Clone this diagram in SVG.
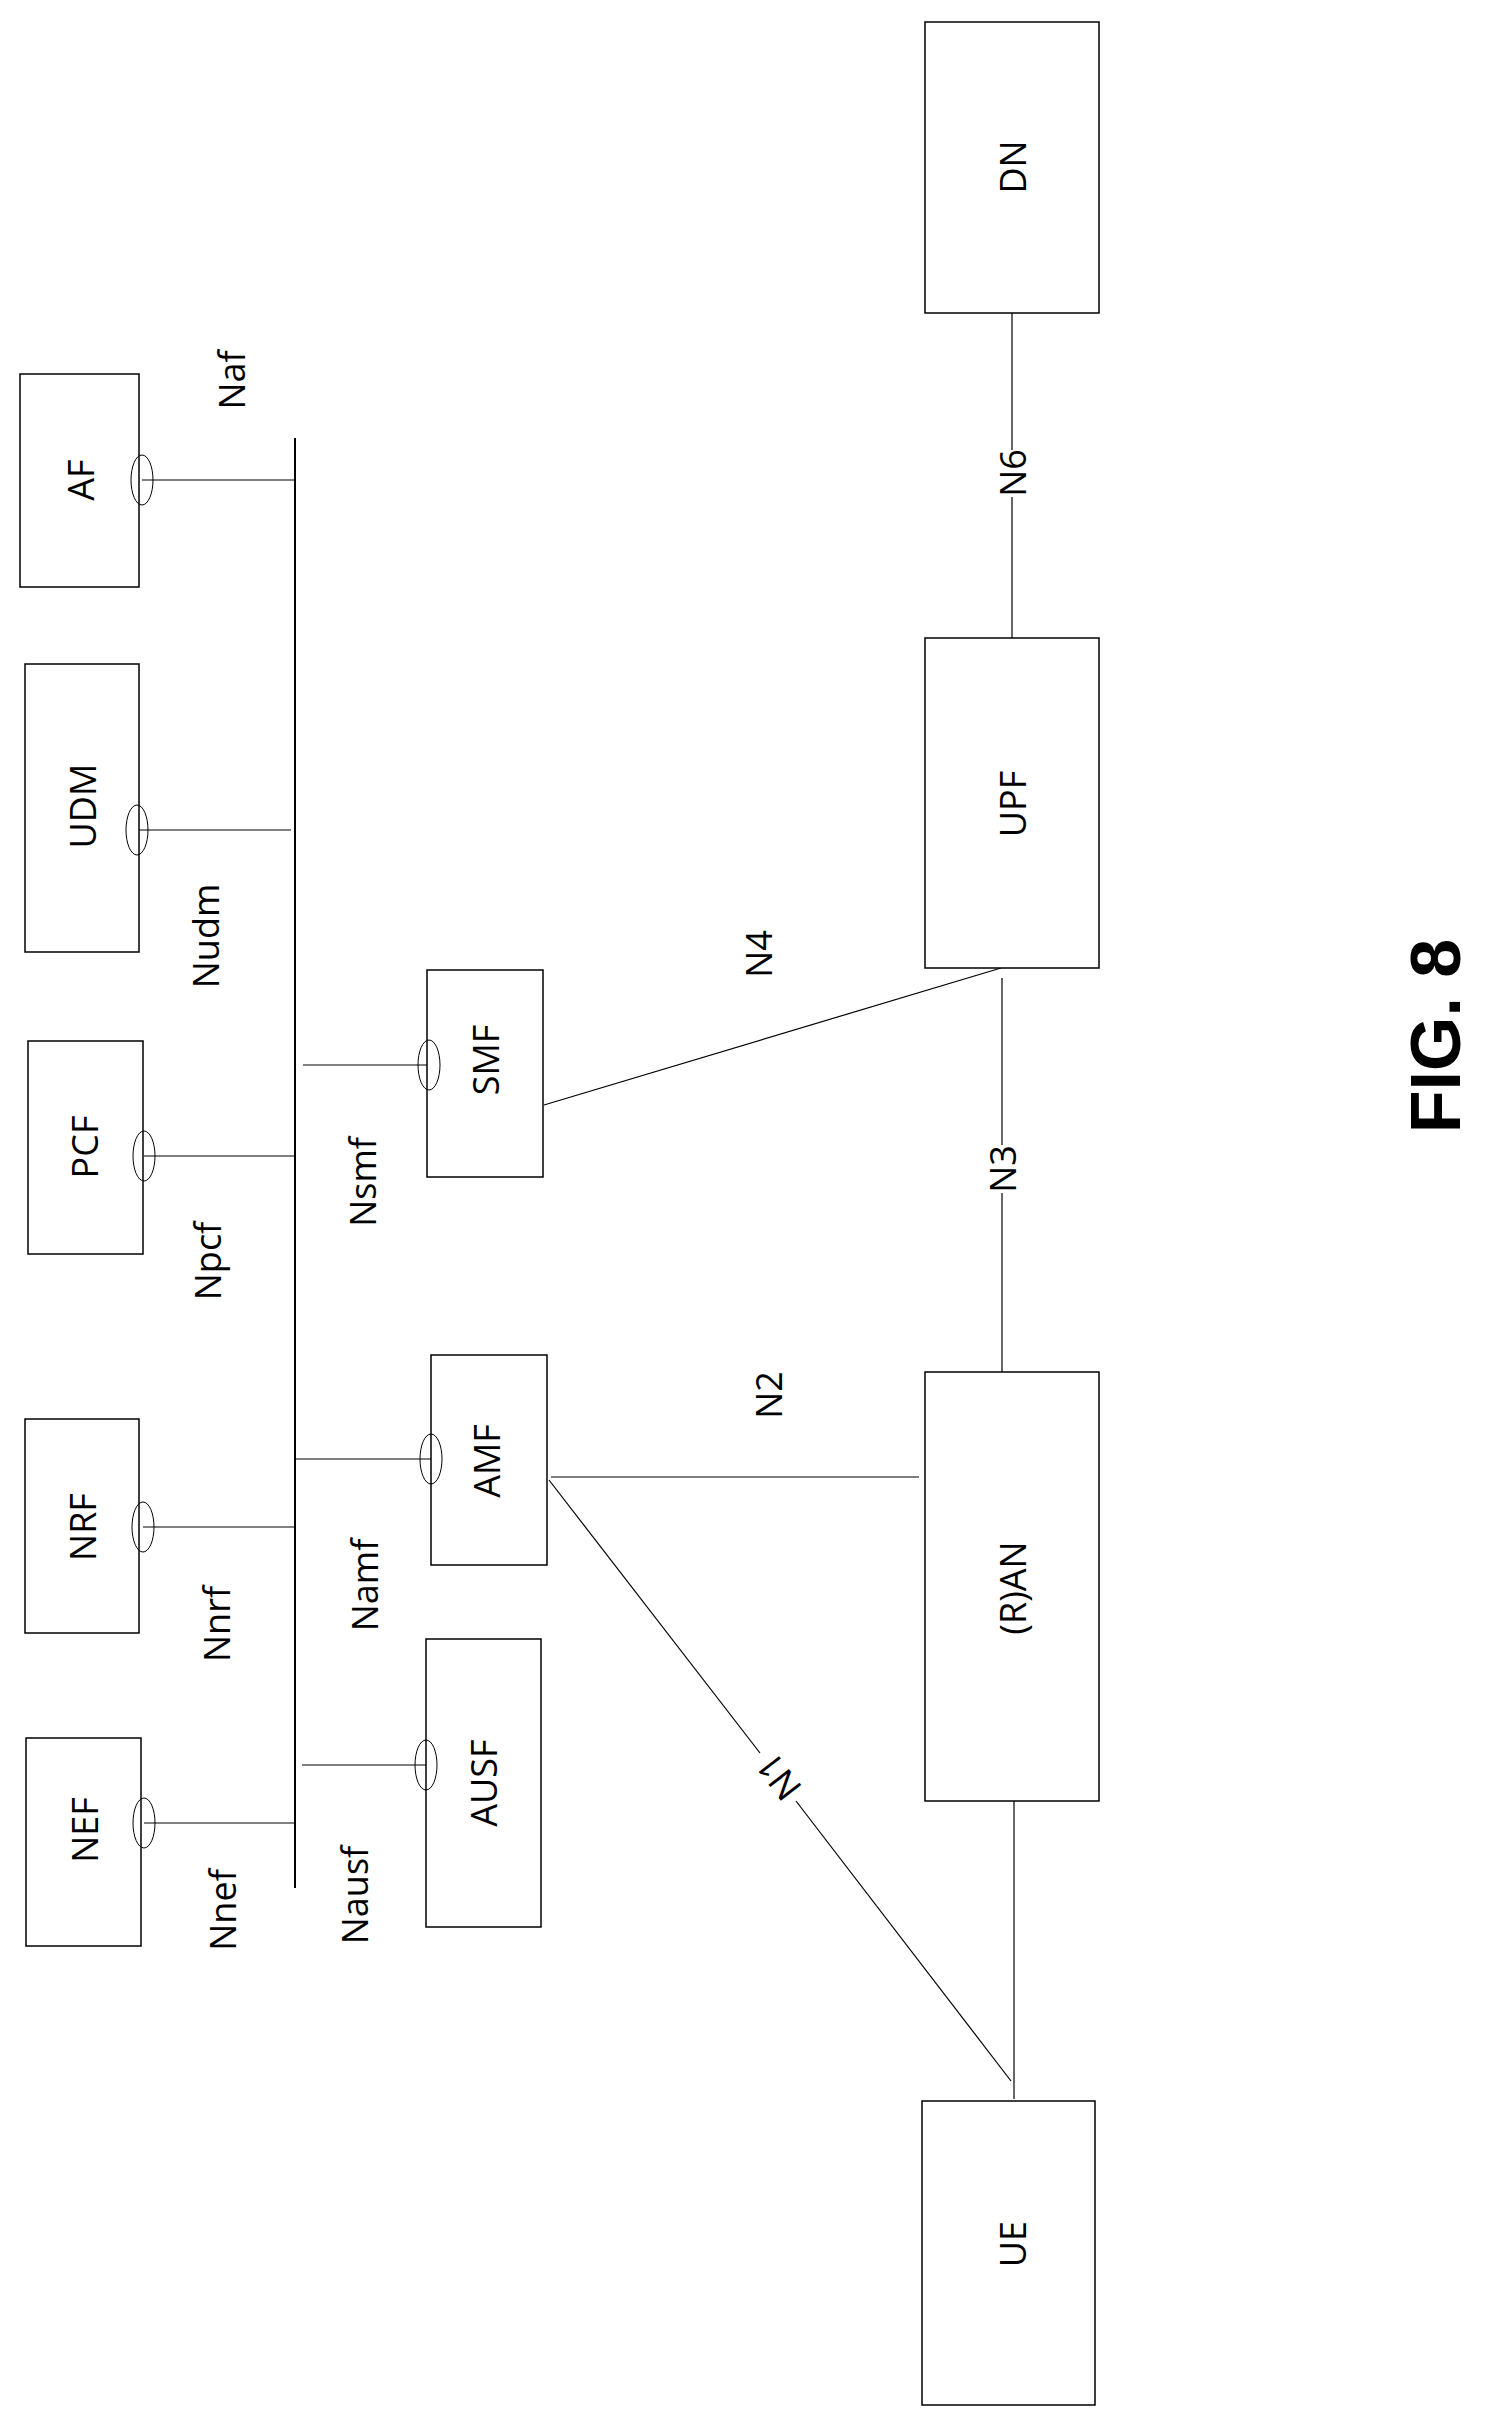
<svg xmlns="http://www.w3.org/2000/svg" width="1488" height="2409" viewBox="0 0 1488 2409">
<style>
.box{fill:#fff;stroke:#000;stroke-width:1.5}
.t{font-family:"Open Sans","Liberation Sans",sans-serif;font-size:36px;text-anchor:middle;dominant-baseline:central;fill:#000}
.ln{stroke:#000;stroke-width:1.2;fill:none}
.bus{stroke:#000;stroke-width:2;fill:none}
.el{fill:none;stroke:#000;stroke-width:1}
</style>
<rect width="1488" height="2409" fill="#fff"/>
<g id="connectors">
<line class="bus" x1="295" y1="438" x2="295" y2="1888"/>
<line class="ln" x1="142" y1="480" x2="295" y2="480"/>
<line class="ln" x1="137" y1="830" x2="291" y2="830"/>
<line class="ln" x1="144" y1="1156" x2="295" y2="1156"/>
<line class="ln" x1="143" y1="1527" x2="295" y2="1527"/>
<line class="ln" x1="144" y1="1823" x2="295" y2="1823"/>
<line class="ln" x1="303" y1="1065" x2="429" y2="1065"/>
<line class="ln" x1="295" y1="1459" x2="431" y2="1459"/>
<line class="ln" x1="302" y1="1765" x2="426" y2="1765"/>
<line class="ln" x1="544" y1="1105" x2="1001" y2="968"/>
<line class="ln" x1="1012" y1="313" x2="1012" y2="450"/>
<line class="ln" x1="1012" y1="497" x2="1012" y2="638"/>
<line class="ln" x1="1002" y1="978" x2="1002" y2="1145"/>
<line class="ln" x1="1002" y1="1193" x2="1002" y2="1372"/>
<line class="ln" x1="551" y1="1477" x2="919" y2="1477"/>
<line class="ln" x1="549" y1="1480" x2="760" y2="1753"/>
<line class="ln" x1="796" y1="1801" x2="1011" y2="2081"/>
<line class="ln" x1="1014" y1="1801" x2="1014" y2="2099"/>
<text class="t" transform="translate(231,380) rotate(-90)">Naf</text>
<text class="t" transform="translate(205,936) rotate(-90)">Nudm</text>
<text class="t" transform="translate(207,1261) rotate(-90)">Npcf</text>
<text class="t" transform="translate(216,1624) rotate(-90)">Nnrf</text>
<text class="t" transform="translate(222,1910) rotate(-90)">Nnef</text>
<text class="t" transform="translate(362,1182) rotate(-90)">Nsmf</text>
<text class="t" transform="translate(364,1585) rotate(-90)">Namf</text>
<text class="t" transform="translate(354,1895) rotate(-90)">Nausf</text>
<text class="t" transform="translate(758,954) rotate(-90)">N4</text>
<text class="t" transform="translate(1012,473) rotate(-90)">N6</text>
<text class="t" transform="translate(1002,1169) rotate(-90)">N3</text>
<text class="t" transform="translate(768,1395) rotate(-90)">N2</text>
<text class="t" transform="translate(778,1777) rotate(-127.6)">N1</text>
</g>
<g id="AF"><rect class="box" x="20" y="374" width="119" height="213"/><text class="t" transform="translate(80,480) rotate(-90)">AF</text><ellipse class="el" cx="142" cy="480" rx="11" ry="25"/></g>
<g id="UDM"><rect class="box" x="25" y="664" width="114" height="288"/><text class="t" transform="translate(82,806) rotate(-90)">UDM</text><ellipse class="el" cx="137" cy="830" rx="11" ry="25"/></g>
<g id="PCF"><rect class="box" x="28" y="1041" width="115" height="213"/><text class="t" transform="translate(84,1147) rotate(-90)">PCF</text><ellipse class="el" cx="144" cy="1156" rx="11" ry="25"/></g>
<g id="NRF"><rect class="box" x="25" y="1419" width="114" height="214"/><text class="t" transform="translate(82,1527) rotate(-90)">NRF</text><ellipse class="el" cx="143" cy="1527" rx="11" ry="25"/></g>
<g id="NEF"><rect class="box" x="26" y="1738" width="115" height="208"/><text class="t" transform="translate(84,1830) rotate(-90)">NEF</text><ellipse class="el" cx="144" cy="1823" rx="11" ry="25"/></g>
<g id="SMF"><rect class="box" x="427" y="970" width="116" height="207"/><text class="t" transform="translate(485,1060) rotate(-90)">SMF</text><ellipse class="el" cx="429" cy="1065" rx="11" ry="25"/></g>
<g id="AMF"><rect class="box" x="431" y="1355" width="116" height="210"/><text class="t" transform="translate(486,1461) rotate(-90)">AMF</text><ellipse class="el" cx="431" cy="1459" rx="11" ry="25"/></g>
<g id="AUSF"><rect class="box" x="426" y="1639" width="115" height="288"/><text class="t" transform="translate(483,1783) rotate(-90)">AUSF</text><ellipse class="el" cx="426" cy="1765" rx="11" ry="25"/></g>
<g id="DN"><rect class="box" x="925" y="22" width="174" height="291"/><text class="t" transform="translate(1012,167) rotate(-90)">DN</text></g>
<g id="UPF"><rect class="box" x="925" y="638" width="174" height="330"/><text class="t" transform="translate(1012,804) rotate(-90)">UPF</text></g>
<g id="RAN"><rect class="box" x="925" y="1372" width="174" height="429"/><text class="t" transform="translate(1012,1588) rotate(-90)">(R)AN</text></g>
<g id="UE"><rect class="box" x="922" y="2101" width="173" height="304"/><text class="t" transform="translate(1012,2244) rotate(-90)">UE</text></g>
<text transform="translate(1436,1036) rotate(-90)" font-family="'Liberation Sans',sans-serif" font-weight="bold" font-size="70" text-anchor="middle" dominant-baseline="central">FIG. 8</text>
</svg>
